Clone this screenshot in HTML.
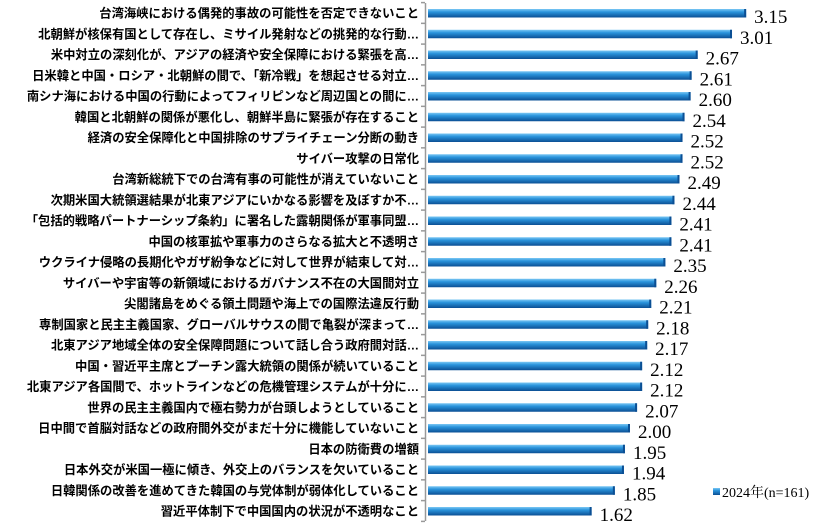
<!DOCTYPE html>
<html><head><meta charset="utf-8"><style>
html,body{margin:0;padding:0;background:#fff;}
svg{display:block;}
.l{font-family:"Liberation Sans","Noto Sans CJK JP",sans-serif;font-size:12.3px;font-weight:bold;fill:#000;text-anchor:end;}
.v{font-family:"Liberation Serif",serif;font-size:19px;fill:#000;}
</style></head><body>
<svg width="834" height="524" viewBox="0 0 834 524" xmlns="http://www.w3.org/2000/svg">
<defs>
<linearGradient id="g" x1="0" y1="0" x2="0" y2="1">
<stop offset="0" stop-color="#7cc8f4"/><stop offset="0.35" stop-color="#2a94dc"/><stop offset="1" stop-color="#0b4f94"/>
</linearGradient>
</defs>
<g id="rows"></g>
<line x1="425.5" y1="3" x2="425.5" y2="521" stroke="#999" stroke-width="1.5"/>
<rect x="713" y="488" width="7" height="7" fill="url(#g)"/>
<text x="722" y="497" font-family="Liberation Serif,Noto Serif CJK SC,serif" font-size="14">2024年(n=161)</text>
</svg>
<script>
var d=[["台湾海峡における偶発的事故の可能性を否定できないこと",3.15],
["北朝鮮が核保有国として存在し、ミサイル発射などの挑発的な行動…",3.01],
["米中対立の深刻化が、アジアの経済や安全保障における緊張を高…",2.67],
["日米韓と中国・ロシア・北朝鮮の間で、「新冷戦」を想起させる対立…",2.61],
["南シナ海における中国の行動によってフィリピンなど周辺国との間に…",2.60],
["韓国と北朝鮮の関係が悪化し、朝鮮半島に緊張が存在すること",2.54],
["経済の安全保障化と中国排除のサプライチェーン分断の動き",2.52],
["サイバー攻撃の日常化",2.52],
["台湾新総統下での台湾有事の可能性が消えていないこと",2.49],
["次期米国大統領選結果が北東アジアにいかなる影響を及ぼすか不…",2.44],
["「包括的戦略パートナーシップ条約」に署名した露朝関係が軍事同盟…",2.41],
["中国の核軍拡や軍事力のさらなる拡大と不透明さ",2.41],
["ウクライナ侵略の長期化やガザ紛争などに対して世界が結束して対…",2.35],
["サイバーや宇宙等の新領域におけるガバナンス不在の大国間対立",2.26],
["尖閣諸島をめぐる領土問題や海上での国際法違反行動",2.21],
["専制国家と民主主義国家、グローバルサウスの間で亀裂が深まって…",2.18],
["北東アジア地域全体の安全保障問題について話し合う政府間対話…",2.17],
["中国・習近平主席とプーチン露大統領の関係が続いていること",2.12],
["北東アジア各国間で、ホットラインなどの危機管理システムが十分に…",2.12],
["世界の民主主義国内で極右勢力が台頭しようとしていること",2.07],
["日中間で首脳対話などの政府間外交がまだ十分に機能していないこと",2.00],
["日本の防衛費の増額",1.95],
["日本外交が米国一極に傾き、外交上のバランスを欠いていること",1.94],
["日韓関係の改善を進めてきた韓国の与党体制が弱体化していること",1.85],
["習近平体制下で中国国内の状況が不透明なこと",1.62]];
var s="";
for(var i=0;i<d.length;i++){
 var y=13+i*20.75, w=d[i][1]*101;
 s+='<text class="l" x="419" y="'+(y+4.5)+'">'+d[i][0]+'</text>';
 s+='<rect x="428" y="'+(y-4)+'" width="'+w+'" height="8.5" fill="url(#g)"/>';
 s+='<rect x="'+(428+w-2)+'" y="'+(y-4)+'" width="2" height="8.5" fill="#0b4f94"/>';
 s+='<text class="v" x="'+(428+w+8)+'" y="'+(y+10)+'">'+d[i][1].toFixed(2)+'</text>';
 var ty=y-10.4;
 s+='<line x1="421" y1="'+ty+'" x2="425" y2="'+ty+'" stroke="#999" stroke-width="1.5"/>';
}
s+='<line x1="421" y1="'+(13+24*20.75+10.4)+'" x2="425" y2="'+(13+24*20.75+10.4)+'" stroke="#999" stroke-width="1.5"/>';
document.getElementById("rows").innerHTML=s;
</script>
</body></html>
